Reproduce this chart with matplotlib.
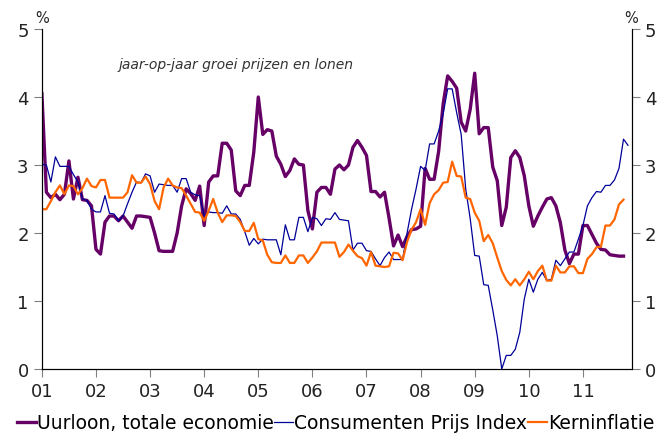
import matplotlib
matplotlib.use("Agg")
import matplotlib.pyplot as plt
import numpy as np

# monthly year-on-year growth, Jan 2001 onwards (%)
uurloon = [4.05, 2.60, 2.52, 2.57, 2.49, 2.57, 3.06, 2.50, 2.82, 2.49, 2.48, 2.40,
           1.76, 1.69, 2.16, 2.25, 2.25, 2.18, 2.25, 2.16, 2.07, 2.25, 2.25, 2.24,
           2.23, 2.00, 1.74, 1.73, 1.73, 1.73, 2.00, 2.40, 2.65, 2.58, 2.48, 2.69,
           2.11, 2.75, 2.84, 2.84, 3.32, 3.32, 3.22, 2.62, 2.55, 2.70, 2.70, 3.19,
           4.00, 3.45, 3.52, 3.50, 3.13, 3.01, 2.83, 2.92, 3.09, 3.01, 3.00, 2.33,
           2.06, 2.60, 2.67, 2.67, 2.57, 2.94, 3.00, 2.93, 3.00, 3.26, 3.36, 3.26,
           3.14, 2.61, 2.61, 2.53, 2.60, 2.22, 1.81, 1.97, 1.80, 1.95, 2.05, 2.06,
           2.10, 2.95, 2.79, 2.79, 3.20, 3.90, 4.31, 4.23, 4.13, 3.63, 3.50, 3.82,
           4.35, 3.46, 3.55, 3.55, 2.97, 2.77, 2.11, 2.38, 3.11, 3.21, 3.11, 2.84,
           2.40, 2.10, 2.25, 2.38, 2.50, 2.52, 2.40, 2.15, 1.75, 1.55, 1.69, 1.69,
           2.11, 2.11, 1.98, 1.85, 1.76, 1.75, 1.68, 1.67, 1.66, 1.66]
cpi = [3.01, 3.00, 2.75, 3.12, 2.98, 2.98, 2.98, 2.86, 2.75, 2.50, 2.48, 2.35,
       2.31, 2.31, 2.55, 2.29, 2.28, 2.18, 2.25, 2.43, 2.60, 2.75, 2.74, 2.87,
       2.84, 2.60, 2.72, 2.71, 2.70, 2.70, 2.60, 2.80, 2.80, 2.60, 2.56, 2.55,
       2.25, 2.31, 2.30, 2.30, 2.29, 2.40, 2.28, 2.28, 2.20, 2.02, 1.82, 1.92,
       1.84, 1.91, 1.90, 1.90, 1.90, 1.68, 2.12, 1.90, 1.90, 2.23, 2.23, 2.02,
       2.23, 2.21, 2.11, 2.21, 2.20, 2.30, 2.20, 2.19, 2.18, 1.75, 1.85, 1.85,
       1.74, 1.73, 1.62, 1.52, 1.64, 1.72, 1.61, 1.61, 1.61, 2.00, 2.35, 2.65,
       2.98, 2.92, 3.31, 3.31, 3.50, 3.75, 4.12, 4.12, 3.77, 3.45, 2.65, 2.21,
       1.67, 1.66, 1.24, 1.23, 0.87, 0.49, 0.00, 0.20, 0.20, 0.29, 0.54, 1.03,
       1.32, 1.13, 1.32, 1.42, 1.30, 1.32, 1.60, 1.52, 1.62, 1.72, 1.72, 1.91,
       2.11, 2.40, 2.52, 2.61, 2.60, 2.70, 2.70, 2.78, 2.95, 3.38, 3.29]
kern = [2.35, 2.35, 2.47, 2.60, 2.70, 2.57, 2.70, 2.69, 2.57, 2.66, 2.80, 2.69,
        2.67, 2.78, 2.78, 2.52, 2.52, 2.52, 2.52, 2.60, 2.85, 2.74, 2.74, 2.83,
        2.72, 2.47, 2.35, 2.67, 2.80, 2.70, 2.67, 2.66, 2.55, 2.43, 2.31, 2.30,
        2.18, 2.33, 2.50, 2.30, 2.16, 2.26, 2.26, 2.25, 2.16, 2.03, 2.03, 2.15,
        1.91, 1.89, 1.68, 1.57, 1.56, 1.56, 1.67, 1.56, 1.56, 1.67, 1.67, 1.56,
        1.64, 1.73, 1.86, 1.86, 1.86, 1.86, 1.65, 1.72, 1.83, 1.74, 1.66, 1.63,
        1.52, 1.72, 1.52, 1.51, 1.50, 1.51, 1.71, 1.70, 1.60, 1.87, 2.05, 2.16,
        2.35, 2.12, 2.44, 2.57, 2.63, 2.74, 2.75, 3.05, 2.84, 2.83, 2.52, 2.50,
        2.30, 2.18, 1.88, 1.97, 1.85, 1.64, 1.44, 1.31, 1.23, 1.32, 1.23, 1.32,
        1.43, 1.32, 1.44, 1.52, 1.30, 1.30, 1.52, 1.42, 1.42, 1.51, 1.51, 1.41,
        1.41, 1.62, 1.69, 1.79, 1.80, 2.11, 2.11, 2.20, 2.42, 2.49]
years = list(range(2001, 2012))
year_labels = ["01", "02", "03", "04", "05", "06", "07", "08", "09", "10", "11"]
names = ["Uurloon, totale economie", "Consumenten Prijs Index", "Kerninflatie"]

def t(s): return 2001 + np.arange(len(s)) / 12.0

fig = plt.figure(figsize=(6.71, 4.35), dpi=100)
ax = fig.add_axes([0.0624, 0.1494, 0.8789, 0.7816])
ax.plot(t(uurloon), uurloon, color="#660066", lw=2.4, label=names[0], solid_joinstyle="round")
ax.plot(t(cpi), cpi, color="#000099", lw=0.9, label=names[1])
ax.plot(t(kern), kern, color="#FF6600", lw=1.6, label=names[2])
ax.set_xlim(2001, 2011.9); ax.set_ylim(0, 5)
ax.set_xticks(years); ax.set_xticklabels(year_labels)
ax.set_yticks(range(6))
ax.spines["top"].set_visible(False)
ax.tick_params(labelsize=13, colors="#222222", length=6, width=0.8)
ax.tick_params(axis="both", color="#808080")
ax2 = ax.twinx(); ax2.set_ylim(0, 5); ax2.set_yticks(range(6))
ax2.spines["top"].set_visible(False)
ax2.tick_params(labelsize=13, colors="#222222", length=6, width=0.8)
ax2.tick_params(axis="y", color="#808080")
fig.text(0.0624, 0.94, "%", fontsize=10.5, ha="center", va="bottom", color="#222222")
fig.text(0.9413, 0.94, "%", fontsize=10.5, ha="center", va="bottom", color="#222222")
fig.text(0.176, 0.85, "jaar-op-jaar groei prijzen en lonen", fontsize=10, style="italic",
         color="#333333", va="center")
h, l = ax.get_legend_handles_labels()
fig.legend(h, l, loc="lower center", bbox_to_anchor=(0.5, -0.035), ncol=3, frameon=False,
           fontsize=13.5, handlelength=1.0, handletextpad=0.05, columnspacing=0.05)
plt.savefig("out.png", dpi=100)
